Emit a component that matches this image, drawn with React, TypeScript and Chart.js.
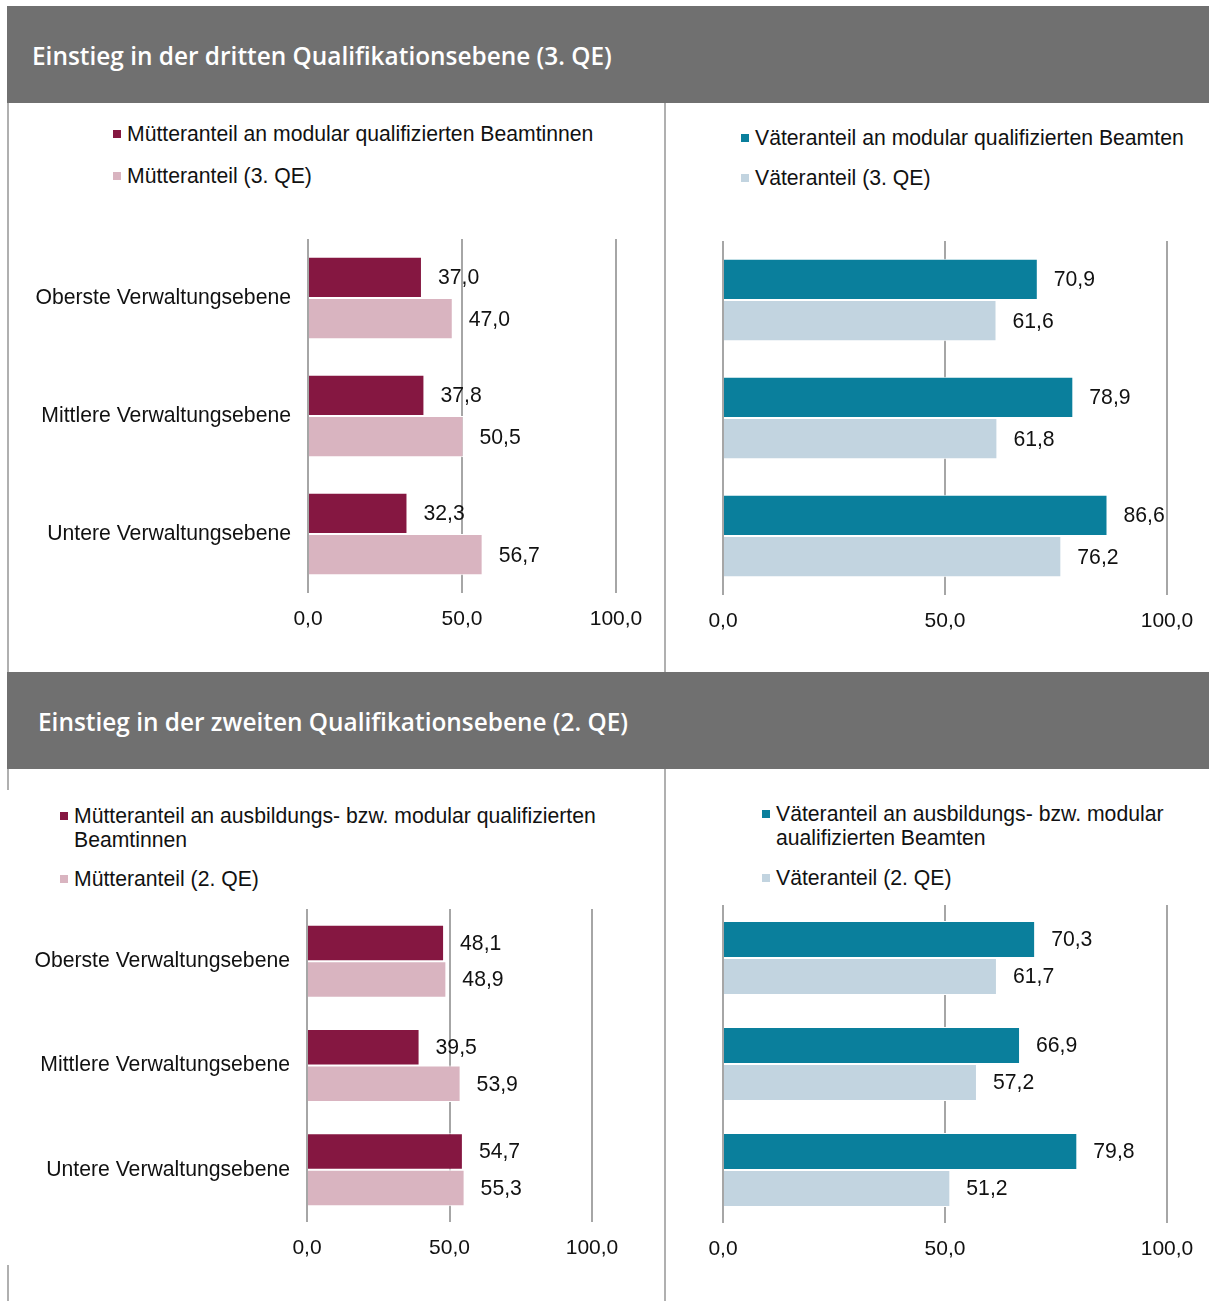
import React, { useEffect, useRef } from "react";
import { Chart, registerables } from "chart.js";

Chart.register(...registerables);

const CATEGORIES = ["Oberste Verwaltungsebene", "Mittlere Verwaltungsebene", "Untere Verwaltungsebene"];
const X_TICKS = [0, 50, 100];

const MUTTER_3QE_MODULAR = [37.0, 37.8, 32.3];
const MUTTER_3QE = [47.0, 50.5, 56.7];
const VATER_3QE_MODULAR = [70.9, 78.9, 86.6];
const VATER_3QE = [61.6, 61.8, 76.2];
const MUTTER_2QE_AUSB = [48.1, 39.5, 54.7];
const MUTTER_2QE = [48.9, 53.9, 55.3];
const VATER_2QE_AUSB = [70.3, 66.9, 79.8];
const VATER_2QE = [61.7, 57.2, 51.2];

const TITLE_3QE = "Einstieg in der dritten Qualifikationsebene (3. QE)";
const TITLE_2QE = "Einstieg in der zweiten Qualifikationsebene (2. QE)";

const MAROON = "#851741";
const PINK = "#d9b4c0";
const TEAL = "#0a7f9c";
const LIGHTBLUE = "#c2d4e0";
const GRID = "#a6a6a6";
const FONT = "'Liberation Sans', Arial, sans-serif";
const FS = 21.2;

const fmt = (v: number) => v.toFixed(1).replace(".", ",");

const labelPlugin = {
  id: "valueLabels",
  afterDatasetsDraw(chart: any) {
    const ctx = chart.ctx;
    ctx.save();
    ctx.font = FS + "px " + FONT;
    ctx.fillStyle = "#111";
    ctx.textAlign = "left";
    ctx.textBaseline = "middle";
    chart.data.datasets.forEach((ds: any, di: number) => {
      const meta = chart.getDatasetMeta(di);
      meta.data.forEach((el: any, i: number) => {
        ctx.fillText(fmt(ds.data[i]), el.x + 16, el.y + 1);
      });
    });
    ctx.restore();
  },
};

type PanelProps = {
  left: number;
  top: number;
  width: number;
  height: number;
  showCats: boolean;
  yWidth: number;
  padding: { left: number; right: number; top: number; bottom: number };
  series: { label: string; data: number[]; color: string }[];
};

function BarPanel(p: PanelProps) {
  const ref = useRef<HTMLCanvasElement | null>(null);
  useEffect(() => {
    if (!ref.current) return;
    const chart = new Chart(ref.current, {
      type: "bar",
      data: {
        labels: CATEGORIES,
        datasets: p.series.map((s) => ({
          label: s.label,
          data: s.data,
          backgroundColor: s.color,
          borderColor: "#ffffff",
          borderWidth: 1,
          borderSkipped: "start",
          categoryPercentage: 0.7,
          barPercentage: 1,
        })),
      },
      options: {
        indexAxis: "y",
        responsive: false,
        animation: false,
        layout: { padding: p.padding },
        plugins: { legend: { display: false }, tooltip: { enabled: false } },
        scales: {
          x: {
            min: 0,
            max: 100,
            afterBuildTicks: (scale: any) => {
              scale.ticks = X_TICKS.map((v) => ({ value: v }));
            },
            afterFit: (scale: any) => {
              scale.height = 40;
              scale.paddingLeft = 0;
              scale.paddingRight = 0;
            },
            grid: { color: GRID, lineWidth: 2, drawTicks: false },
            border: { display: false },
            ticks: {
              padding: 14,
              color: "#111",
              font: { family: FONT, size: 21 },
              callback: (v: any) => fmt(Number(v)),
            },
          },
          y: {
            display: p.showCats,
            afterFit: (scale: any) => {
              scale.width = p.yWidth;
              scale.paddingTop = 0;
              scale.paddingBottom = 0;
            },
            grid: { display: false, drawTicks: false },
            border: { display: false },
            ticks: {
              padding: 17,
              color: "#111",
              font: { family: FONT, size: FS },
            },
          },
        },
      },
      plugins: [labelPlugin],
    } as any);
    return () => chart.destroy();
  }, []);
  return (
    <canvas
      ref={ref}
      width={p.width}
      height={p.height}
      style={{ position: "absolute", left: p.left, top: p.top, width: p.width, height: p.height }}
    />
  );
}

function LegendItem({ x, lines, ys, color }: { x: number; lines: string[]; ys: number[]; color: string }) {
  return (
    <>
      <div style={{ position: "absolute", left: x, top: ys[0] - 4, width: 8, height: 8, background: color }} />
      {lines.map((t, i) => (
        <div
          key={i}
          style={{
            position: "absolute",
            left: x + 14,
            top: ys[i] - 12,
            height: 24,
            lineHeight: "24px",
            fontSize: FS,
            fontFamily: FONT,
            color: "#111",
            whiteSpace: "nowrap",
          }}
        >
          {t}
        </div>
      ))}
    </>
  );
}

function Header({ top, text, textLeft }: { top: number; text: string; textLeft: number }) {
  return (
    <div style={{ position: "absolute", left: 7, top, width: 1202, height: 97, background: "#707070" }}>
      <div
        style={{
          position: "absolute",
          left: textLeft - 7,
          top: 30,
          height: 40,
          lineHeight: "40px",
          color: "#fff",
          fontFamily: "'Open Sans', sans-serif",
          fontWeight: 600,
          fontSize: 24.4,
          whiteSpace: "nowrap",
        }}
      >
        {text}
      </div>
    </div>
  );
}

function VLine({ x, y1, y2 }: { x: number; y1: number; y2: number }) {
  return <div style={{ position: "absolute", left: x, top: y1, width: 2, height: y2 - y1, background: "#b0b0b0" }} />;
}

export default function App() {
  return (
    <div style={{ position: "absolute", left: 0, top: 0, width: 1209, height: 1301, background: "#fff", overflow: "hidden" }}>
      <Header top={6} text={TITLE_3QE} textLeft={32} />
      <VLine x={7} y1={103} y2={672} />
      <VLine x={664} y1={103} y2={672} />
      <Header top={672} text={TITLE_2QE} textLeft={38} />
      <VLine x={7} y1={769} y2={790} />
      <VLine x={7} y1={1265} y2={1301} />
      <VLine x={664} y1={769} y2={1301} />

      <LegendItem x={113} lines={["Mütteranteil an modular qualifizierten Beamtinnen"]} ys={[134]} color={MAROON} />
      <LegendItem x={113} lines={["Mütteranteil (3. QE)"]} ys={[176]} color={PINK} />
      <LegendItem x={741} lines={["Väteranteil an modular qualifizierten Beamten"]} ys={[138]} color={TEAL} />
      <LegendItem x={741} lines={["Väteranteil (3. QE)"]} ys={[178]} color={LIGHTBLUE} />

      <LegendItem x={60} lines={["Mütteranteil an ausbildungs- bzw. modular qualifizierten", "Beamtinnen"]} ys={[816, 840]} color={MAROON} />
      <LegendItem x={60} lines={["Mütteranteil (2. QE)"]} ys={[879]} color={PINK} />
      <LegendItem x={762} lines={["Väteranteil an ausbildungs- bzw. modular", "aualifizierten Beamten"]} ys={[814, 838]} color={TEAL} />
      <LegendItem x={762} lines={["Väteranteil (2. QE)"]} ys={[878]} color={LIGHTBLUE} />

      <BarPanel
        left={10}
        top={225}
        width={650}
        height={420}
        showCats={true}
        yWidth={298}
        padding={{ left: 0, right: 44, top: 14, bottom: 12 }}
        series={[
          { label: "Mütteranteil an modular qualifizierten Beamtinnen", data: MUTTER_3QE_MODULAR, color: MAROON },
          { label: "Mütteranteil (3. QE)", data: MUTTER_3QE, color: PINK },
        ]}
      />
      <BarPanel
        left={670}
        top={225}
        width={539}
        height={420}
        showCats={false}
        yWidth={0}
        padding={{ left: 53, right: 42, top: 16, bottom: 10 }}
        series={[
          { label: "Väteranteil an modular qualifizierten Beamten", data: VATER_3QE_MODULAR, color: TEAL },
          { label: "Väteranteil (3. QE)", data: VATER_3QE, color: LIGHTBLUE },
        ]}
      />
      <BarPanel
        left={10}
        top={895}
        width={650}
        height={400}
        showCats={true}
        yWidth={297}
        padding={{ left: 0, right: 68, top: 14, bottom: 33 }}
        series={[
          { label: "Mütteranteil an ausbildungs- bzw. modular qualifizierten Beamtinnen", data: MUTTER_2QE_AUSB, color: MAROON },
          { label: "Mütteranteil (2. QE)", data: MUTTER_2QE, color: PINK },
        ]}
      />
      <BarPanel
        left={670}
        top={895}
        width={539}
        height={400}
        showCats={false}
        yWidth={0}
        padding={{ left: 53, right: 42, top: 10, bottom: 32 }}
        series={[
          { label: "Väteranteil an ausbildungs- bzw. modular aualifizierten Beamten", data: VATER_2QE_AUSB, color: TEAL },
          { label: "Väteranteil (2. QE)", data: VATER_2QE, color: LIGHTBLUE },
        ]}
      />
    </div>
  );
}
